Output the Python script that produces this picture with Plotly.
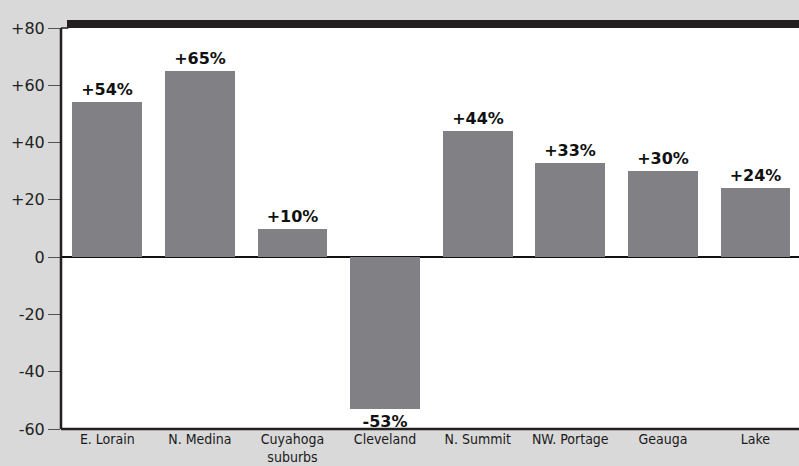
import plotly.graph_objects as go

categories = ["E. Lorain", "N. Medina", "Cuyahoga<br>suburbs", "Cleveland",
              "N. Summit", "NW. Portage", "Geauga", "Lake"]
values = [54, 65, 10, -53, 44, 33, 30, 24]
labels = ["+54%", "+65%", "+10%", "-53%", "+44%", "+33%", "+30%", "+24%"]
tick_vals = [80, 60, 40, 20, 0, -20, -40, -60]
tick_text = ["+80", "+60", "+40", "+20", "0", "-20", "-40", "-60"]

bg = "#d9d9d9"
fig = go.Figure()
fig.add_trace(go.Bar(
    x=list(range(len(categories))), y=values,
    marker=dict(color="#818185", line=dict(width=0)),
    width=0.755,
    text=labels, textposition="outside",
    textfont=dict(family="DejaVu Sans, sans-serif", size=16, color="#111"),
    texttemplate="<b>%{text}</b>",
    cliponaxis=False,
))

fig.update_layout(
    width=799, height=466,
    margin=dict(l=61, r=0, t=28, b=37),
    paper_bgcolor=bg, plot_bgcolor="white",
    showlegend=False,
    bargap=0,
    xaxis=dict(range=[-0.5, 7.47], tickvals=list(range(len(categories))),
               ticktext=categories, showgrid=False, zeroline=False,
               ticks="", showline=False, ticklabelstandoff=0, automargin=False,
               tickfont=dict(family="DejaVu Sans Condensed, Liberation Sans, sans-serif",
                             size=14, color="#1a1a1a")),
    yaxis=dict(range=[-60, 80], tickvals=tick_vals, ticktext=tick_text,
               showgrid=False, zeroline=True, zerolinecolor="#111", zerolinewidth=1.5,
               ticks="outside", ticklen=12, tickcolor="#555", tickwidth=1,
               showline=False, automargin=False,
               tickfont=dict(family="DejaVu Sans, sans-serif", size=16, color="#222")),
    shapes=[
        dict(type="line", xref="paper", yref="paper", x0=0, x1=0, y0=0, y1=1,
             line=dict(color="#231f20", width=2.5)),
        dict(type="line", xref="paper", yref="paper", x0=0, x1=1, y0=0, y1=0,
             line=dict(color="#231f20", width=2.5)),
        dict(type="line", xref="paper", yref="paper", x0=0, x1=0.01, y0=1, y1=1,
             line=dict(color="#231f20", width=1.5)),
        dict(type="rect", xref="paper", yref="paper", x0=6/738, x1=1,
             y0=1, y1=1 + 8/401,
             fillcolor="#231f20", line=dict(width=0)),
    ],
)

fig.write_html("out.html")
